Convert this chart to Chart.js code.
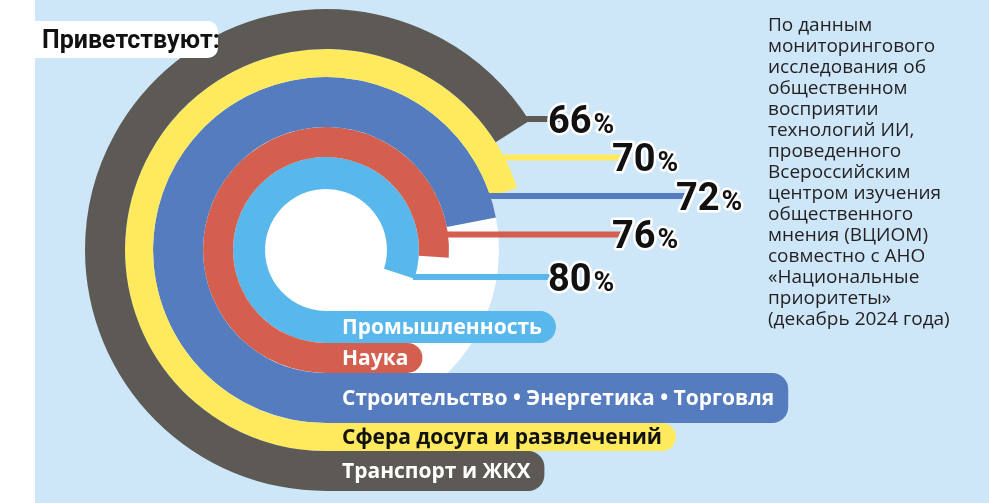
<!DOCTYPE html>
<html lang="ru">
<head>
<meta charset="utf-8">
<title>Приветствуют</title>
<script src="https://cdn.jsdelivr.net/npm/chart.js@4.4.1/dist/chart.umd.min.js"></script>
<style>
  html, body { margin: 0; padding: 0; background: #fff; }
  #wrap { position: relative; width: 989px; height: 503px; overflow: hidden; }
  #bg { position: absolute; left: 35px; top: 0; right: 0; bottom: 0; background: #cde6f8; }
  #chart { position: absolute; left: 0; top: 0; width: 989px; height: 503px; }
  #title {
    position: absolute; left: 35px; top: 21px; width: 176px; height: 37px; padding-left: 7px;
    background: #fff; border-radius: 0 10px 10px 0; color: #111; white-space: nowrap;
    font: 700 25px Roboto, sans-serif; line-height: 37px;
  }
  #note {
    position: absolute; left: 768px; top: 14px; color: #231f20;
    font: 19px "Open Sans", sans-serif; line-height: 21px;
  }
</style>
</head>
<body>
<div id="wrap">
  <div id="bg"></div>
  <div id="chart"><canvas id="c"></canvas></div>
  <div id="title">Приветствуют:</div>
  <div id="note">По данным<br>мониторингового<br>исследования об<br>общественном<br>восприятии<br>технологий ИИ,<br>проведенного<br>Всероссийским<br>центром изучения<br>общественного<br>мнения (ВЦИОМ)<br>совместно с АНО<br>«Национальные<br>приоритеты»<br>(декабрь 2024 года)</div>
</div>
<script>
// outer ring first
const categories = [
  "Транспорт и ЖКХ",
  "Сфера досуга и развлечений",
  "Строительство • Энергетика • Торговля",
  "Наука",
  "Промышленность",
];
const shares = [66, 70, 72, 76, 80];

const ringColors = ["#5d5a55", "#ffea5e", "#557cbe", "#d45f4e", "#58b8eb"];
const labelInk = ["#fff", "#111", "#fff", "#fff", "#fff"];
const ringWeights = [40, 28, 50, 30, 32];

function barPath(ctx, x, y, w, h, r) {
  ctx.beginPath();
  ctx.moveTo(x, y);
  ctx.lineTo(x + w - r, y);
  ctx.arcTo(x + w, y, x + w, y + r, r);
  ctx.lineTo(x + w, y + h - r);
  ctx.arcTo(x + w, y + h, x + w - r, y + h, r);
  ctx.lineTo(x, y + h);
  ctx.closePath();
}

const ringDecor = {
  id: "ringDecor",
  beforeDatasetsDraw(chart) {
    const ctx = chart.ctx;
    const blue = chart.getDatasetMeta(2).data[0];
    ctx.save();
    ctx.fillStyle = "#fff";
    ctx.beginPath();
    ctx.arc(blue.x, blue.y, blue.outerRadius, 0, Math.PI * 2);
    ctx.fill();
    ctx.restore();
  },
  afterDatasetsDraw(chart) {
    const ctx = chart.ctx;
    ctx.save();

    // bars running out of the bottom of each ring, with the sector name
    ctx.font = "700 21px 'Open Sans'";
    ctx.textBaseline = "middle";
    categories.forEach((name, i) => {
      const arc = chart.getDatasetMeta(i).data[0];
      const top = arc.y + arc.innerRadius;
      const h = arc.outerRadius - arc.innerRadius;
      const w = ctx.measureText(name).width + 30;
      ctx.fillStyle = ringColors[i];
      barPath(ctx, arc.x - 1, top, w + 1, h, Math.min(h / 2, 16));
      ctx.fill();
      ctx.fillStyle = labelInk[i];
      ctx.fillText(name, arc.x + 16, top + h / 2 + 1);
    });

    // leader lines
    const spots = shares.map((v, i) => {
      const arc = chart.getDatasetMeta(i).data[0];
      return {
        arc,
        y: arc.y - 131 + 38.5 * i + (i === 4 ? 4 : 0),
        x: arc.x + 350 - 64 * Math.abs(i - 2),
      };
    });
    ctx.lineWidth = 6;
    spots.forEach((s, i) => {
      const dy = s.y - s.arc.y;
      const x0 = s.arc.x + Math.sqrt(Math.max(s.arc.outerRadius ** 2 - dy * dy, 0)) - 2;
      ctx.strokeStyle = ringColors[i];
      ctx.beginPath();
      ctx.moveTo(x0, s.y);
      ctx.lineTo(s.x + 14, s.y);
      ctx.stroke();
    });

    // percentages
    ctx.textBaseline = "alphabetic";
    ctx.lineJoin = "round";
    ctx.lineWidth = 5;
    ctx.strokeStyle = "#fff";
    ctx.fillStyle = "#111";
    spots.forEach((s, i) => {
      const base = s.y + 13.5;
      const num = String(shares[i]);
      ctx.font = "700 38px Roboto";
      const nw = ctx.measureText(num).width;
      ctx.strokeText(num, s.x, base);
      ctx.fillText(num, s.x, base);
      ctx.font = "700 28px Roboto";
      ctx.strokeText("%", s.x + nw + 2, base);
      ctx.fillText("%", s.x + nw + 2, base);
    });

    ctx.restore();
  },
};

new Chart(document.getElementById("c"), {
  type: "doughnut",
  data: {
    labels: ["share", "rest"],
    datasets: shares.map((v, i) => ({
      label: categories[i],
      data: [v, 100 - v],
      backgroundColor: [ringColors[i], "rgba(0,0,0,0)"],
      borderWidth: 0,
      weight: ringWeights[i],
    })),
  },
  options: {
    responsive: true,
    maintainAspectRatio: false,
    animation: false,
    events: [],
    rotation: 180,
    radius: 241,
    cutout: "25.3%",
    layout: { padding: { left: 0, right: 337, top: 0, bottom: 3 } },
    plugins: {
      legend: { display: false },
      tooltip: { enabled: false },
    },
  },
  plugins: [ringDecor],
});
</script>
</body>
</html>
